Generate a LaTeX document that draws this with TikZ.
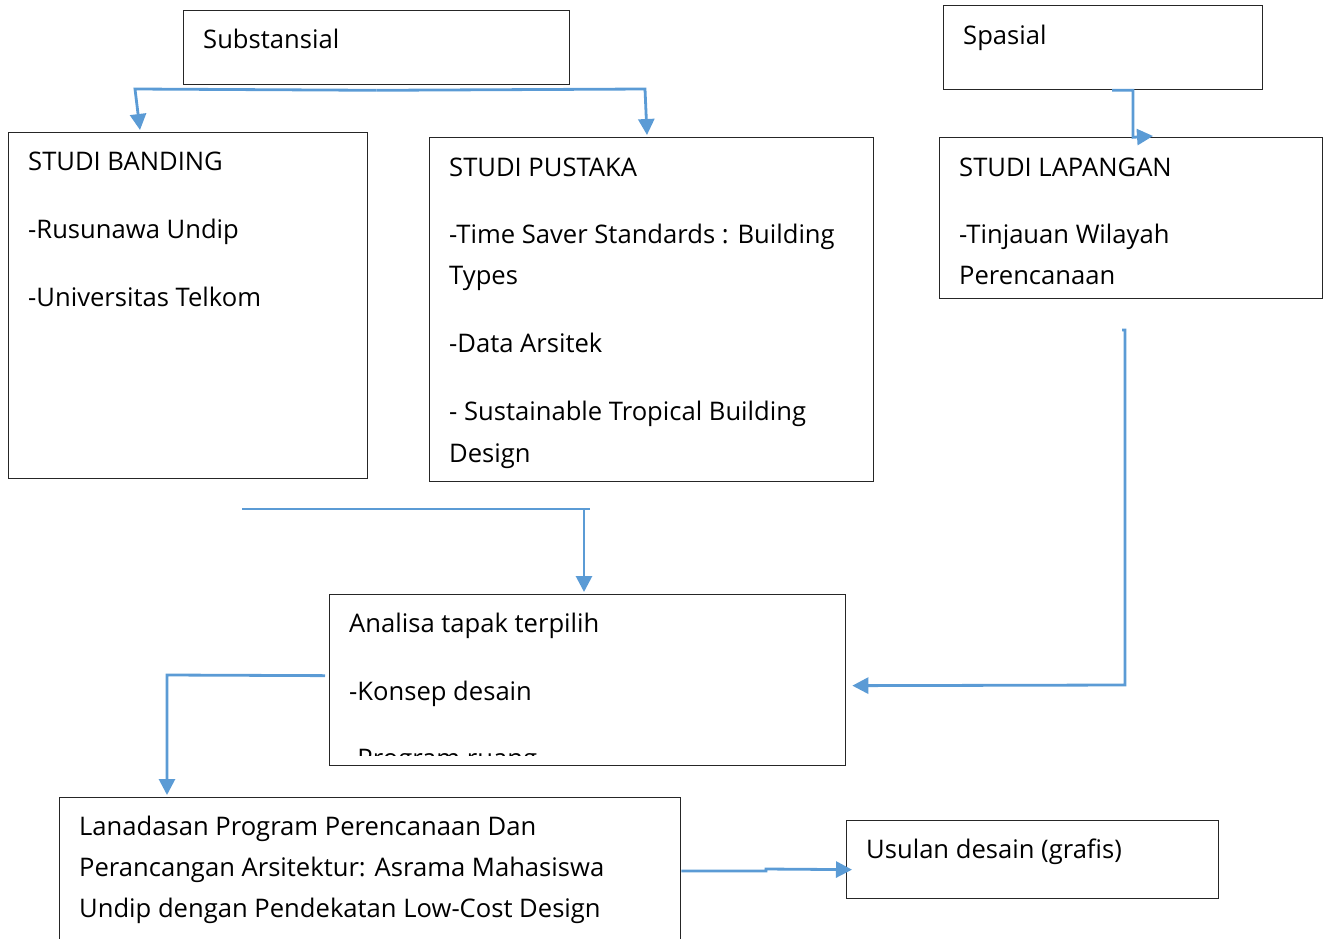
\documentclass[tikz,border=0pt]{standalone}
\usepackage{fontspec}
\setmainfont{Open Sans}
\usetikzlibrary{arrows.meta}
\definecolor{connblue}{HTML}{5B9BD5}
\begin{document}
\begin{tikzpicture}[x=1pt,y=-1pt,
  box/.style={draw=black!85,line width=1.3pt,inner sep=0pt,anchor=north west},
  txt/.style={anchor=base west,inner sep=0pt,font=\fontsize{25.6}{30}\selectfont},
  conn/.style={draw=connblue,line width=2.8pt},
  arr/.style={conn,-{Triangle[length=16pt,width=16pt]}}]
\useasboundingbox (0,0) rectangle (1323,938);
% boxes
\node[box,minimum width=386pt,minimum height=74pt] (sub) at (183,10) {};
\node[box,minimum width=319pt,minimum height=84pt] (spa) at (943,5) {};
\node[box,minimum width=359pt,minimum height=346pt] (ban) at (8,132) {};
\node[box,minimum width=444pt,minimum height=344pt] (pus) at (429,137) {};
\node[box,minimum width=383pt,minimum height=161pt] (lap) at (939,137) {};
\node[box,minimum width=516pt,minimum height=171pt] (ana) at (329,594) {};
\node[box,minimum width=621pt,minimum height=160pt] (lan) at (59,797) {};
\node[box,minimum width=372pt,minimum height=78pt] (usu) at (846,820) {};
% texts
\node[txt] (t1) at (203,48) {Substansial};
\node[txt] (t2) at (963,44) {Spasial};
\node[txt] (t3) at (28,170) {STUDI BANDING};
\node[txt] (t4) at (28,238) {-Rusunawa Undip};
\node[txt] (t5) at (28,306) {-Universitas Telkom};
\node[txt] (t6) at (449,176) {STUDI PUSTAKA};
\node[txt] (t7) at (449,243) {-Time Saver Standards : Building};
\node[txt] (t8) at (449,284) {Types};
\node[txt] (t9) at (449,352) {-Data Arsitek};
\node[txt] (t10) at (449,420) {- Sustainable Tropical Building};
\node[txt] (t11) at (449,462) {Design};
\node[txt] (t12) at (959,176) {STUDI LAPANGAN};
\node[txt] (t13) at (959,243) {-Tinjauan Wilayah};
\node[txt] (t14) at (959,284) {Perencanaan};
\node[txt] (t15) at (349,632) {Analisa tapak terpilih};
\node[txt] (t16) at (349,700) {-Konsep desain};
\begin{scope}
\clip (329,594) rectangle (845,755);
\node[txt] (t17) at (349,767) {-Program ruang};
\end{scope}
\node[txt] (t18) at (79,835) {Lanadasan Program Perencanaan Dan};
\node[txt] (t19) at (79,876) {Perancangan Arsitektur: Asrama Mahasiswa};
\node[txt] (t20) at (79,917) {Undip dengan Pendekatan Low-Cost Design};
\node[txt] (t21) at (866,858) {Usulan desain (grafis)};
% connectors
\coordinate (j1) at ([yshift=-5pt]sub.south);
\draw[arr] (j1) -- (135,89) -- ([xshift=132pt,yshift=2pt]ban.north west);
\draw[arr] (j1) -- (645,89) -- ([xshift=218pt,yshift=2pt]pus.north west);
\coordinate (j2) at ([xshift=169pt]spa.south west);
\draw[arr] (j2) -- ++(21,0) -- ++(0,47) -- ([xshift=214pt,yshift=1pt]lap.north west);
\coordinate (f1) at (242,509);
\coordinate (f2) at (590,509);
\draw[conn] (f1) -- (f2);
\coordinate (f2b) at (584,509);
\draw[arr] (f2b) -- ([xshift=255pt,yshift=2pt]ana.north west);
\coordinate (f3) at (1122,330);
\draw[arr] (f3) -- (1125,330) -- (1125,685) -- ([xshift=6pt,yshift=-5.5pt]ana.east);
\coordinate (j3) at ([xshift=-4pt,yshift=4.5pt]ana.west);
\draw[arr] (j3) -- (167,675) -- ([xshift=108pt,yshift=2pt]lan.north west);
\coordinate (j4) at ([yshift=-74pt]lan.north east);
\draw[arr] (j4) -- (766,871) -- (766,869) -- ([xshift=6pt,yshift=-10pt]usu.west);
\end{tikzpicture}
\end{document}
